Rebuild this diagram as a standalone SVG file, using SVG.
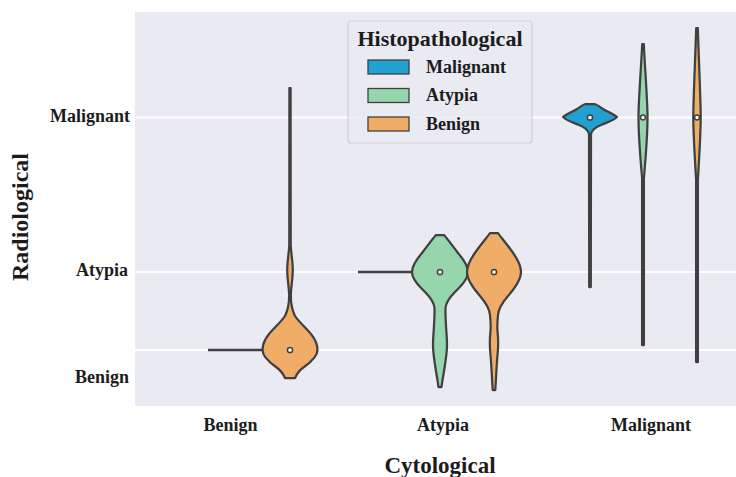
<svg xmlns="http://www.w3.org/2000/svg" width="736" height="477" viewBox="0 0 736 477">
<style>
.txt{font-family:"Liberation Serif","Times New Roman",serif;font-weight:bold;fill:#1c1c1c}
.tick{font-size:18px}
.grid{stroke:#ffffff;stroke-width:2}
.vio{stroke:#404040;stroke-width:2.25;stroke-linejoin:round}
.mal{fill:#21a0d2}
.aty{fill:#96d6ad}
.ben{fill:#f0ad68}
.med{fill:#ffffff;stroke:#404040;stroke-width:1.5}
.flat{stroke:#404040;stroke-width:2.5;fill:none}
.patch{stroke:#404040;stroke-width:1.3}
</style>
<rect width="736" height="477" fill="#ffffff"/>
<g id="axes">
<rect x="135" y="12" width="601" height="394" fill="#eaeaf2"/>
<line class="grid" x1="135" y1="117.5" x2="736" y2="117.5"/>
<line class="grid" x1="135" y1="272" x2="736" y2="272"/>
<line class="grid" x1="135" y1="350" x2="736" y2="350"/>
</g>
<g id="violins-benign">
<line class="flat" x1="208" y1="350" x2="263" y2="350"/>
<path class="vio ben" d="M289.4,88 L290.6,88 L290.7,245 C291.3,255 292.8,262 292.8,270 C292.8,278 291.3,285 290.8,295 C290.8,305 292,310 295,316 C299,322 306,328 311,334 C315,339 317.5,345 317.5,350 C317.5,356 311,362 304,367 C298,371 296,376 295,378 L285,378 C284,376 282,371 276,367 C269,362 262.5,356 262.5,350 C262.5,345 265,339 269,334 C274,328 281,322 285,316 C288,310 289.2,305 289.2,295 C288.7,285 287.2,278 287.2,270 C287.2,262 288.7,255 289.3,245 Z"/>
<circle class="med" cx="290" cy="350" r="2.6"/>
</g>
<g id="violins-atypia">
<line class="flat" x1="358" y1="272" x2="413" y2="272"/>
<path class="vio aty" d="M436,235 L444,235 C446,237 452,245 458,253 C464,260 468,266 468,272 C468,279 461,286 455,292 C449,298 446,302 445.5,308 C445,318 447,335 447,345 C447,358 443,375 441.5,387 L438.5,387 C437,375 433,358 433,345 C433,335 435,318 434.5,308 C434,302 431,298 425,292 C419,286 412,279 412,272 C412,266 416,260 422,253 C428,245 434,237 436,235 Z"/>
<circle class="med" cx="440" cy="272" r="2.6"/>
<path class="vio ben" d="M490,233 L498,233 C500,236 506,243 511,250 C517,258 521,265 521,272 C521,280 515,288 508,296 C502,303 498.5,308 498,315 C497.5,320 497,325 497.5,331 C498.5,340 498.5,346 497.5,355 C496.5,366 496,380 495.3,390 L492.7,390 C492,380 491.5,366 490.5,355 C489.5,346 489.5,340 490.5,331 C491,325 490.5,320 490,315 C489.5,308 486,303 480,296 C473,288 467,280 467,272 C467,265 471,258 477,250 C482,243 488,236 490,233 Z"/>
<circle class="med" cx="494" cy="272" r="2.6"/>
</g>
<g id="violins-malignant">
<path class="vio mal" d="M585.5,104 L594.5,104 C597,104.5 600,107 603,109 C608,112 614,114.5 617,117 C615,120 608,122 601,125 C596,127 592,129 591,134 L590.8,287 L589.2,287 L589,134 C588,129 584,127 579,125 C572,122 565,120 563,117 C566,114.5 572,112 577,109 C580,107 583,104.5 585.5,104 Z"/>
<circle class="med" cx="590" cy="117.5" r="2.6"/>
<path class="vio aty" d="M642.2,44 L643.8,44 C645,70 647.5,100 647.5,117 C647.5,135 645.5,160 643.9,178 L643.9,345 L642.1,345 L642.1,178 C640.5,160 638.5,135 638.5,117 C638.5,100 641,70 642.2,44 Z"/>
<circle class="med" cx="643" cy="117.5" r="2.4"/>
<path class="vio ben" d="M696.2,28 L697.8,28 C698.8,60 700.7,100 700.7,117 C700.7,135 699,160 697.9,180 L697.9,362 L696.1,362 L696.1,180 C695,160 693.3,135 693.3,117 C693.3,100 695.2,60 696.2,28 Z"/>
<circle class="med" cx="697" cy="117.5" r="2.4"/>
</g>
<g id="y-ticks" class="txt tick" text-anchor="end">
<text x="130" y="122">Malignant</text>
<text x="128" y="276">Atypia</text>
<text x="129" y="383">Benign</text>
</g>
<g id="x-ticks" class="txt tick" text-anchor="middle">
<text x="230.5" y="431">Benign</text>
<text x="443" y="431">Atypia</text>
<text x="651" y="431">Malignant</text>
</g>
<text class="txt" font-size="23" x="440" y="473" text-anchor="middle">Cytological</text>
<text class="txt" font-size="24" transform="translate(28,217) rotate(-90)" text-anchor="middle">Radiological</text>
<g id="legend">
<rect x="348" y="21" width="184" height="122" rx="3" fill="#eaeaf2" fill-opacity="0.8" stroke="#cfcfd6" stroke-width="1.2"/>
<text class="txt" font-size="22" x="440" y="46" text-anchor="middle">Histopathological</text>
<rect class="patch mal" x="368" y="60" width="41" height="14"/>
<rect class="patch aty" x="368" y="88.5" width="41" height="14"/>
<rect class="patch ben" x="368" y="117" width="41" height="14"/>
<text class="txt tick" x="426" y="72.5">Malignant</text>
<text class="txt tick" x="426" y="101">Atypia</text>
<text class="txt tick" x="426" y="129.5">Benign</text>
</g>
</svg>
